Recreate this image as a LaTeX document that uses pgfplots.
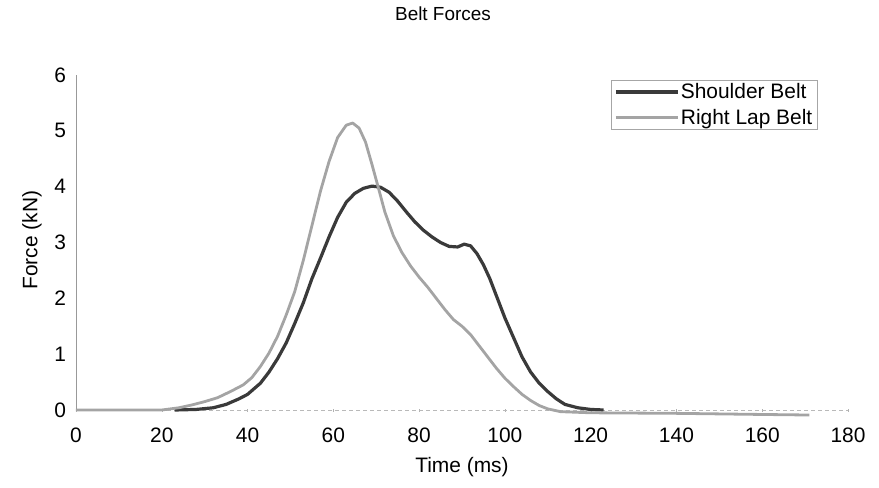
\documentclass[border=0pt]{standalone}
\usepackage{pgfplots}
\pgfplotsset{compat=1.18}
\usepackage{fontspec}
\setmainfont{Liberation Sans}
\definecolor{darkline}{HTML}{3A3A3A}
\definecolor{lightline}{HTML}{A4A4A4}
\begin{document}
\begin{tikzpicture}
\useasboundingbox (-76bp,-78bp) rectangle (803bp,410bp);
\begin{axis}[
  at={(0,0)}, anchor=south west,
  scale only axis, width=772bp, height=335bp,
  xmin=0, xmax=180, ymin=0, ymax=6,
  xtick={0,20,...,180}, ytick={0,1,...,6},
  axis lines=left,
  axis line style={-},
  x axis line style={gray!55, dash pattern=on 4bp off 3bp},
  y axis line style={gray!80, line width=0.5bp},
  major tick length=3bp,
  xtick style={gray!60},
  ytick style={draw=none},
  clip=false,
  /pgf/number format/assume math mode=true,
  tick label style={font=\fontsize{21}{23}\selectfont},
  xticklabel style={yshift=-13bp},
  yticklabel style={xshift=-5bp},
  xlabel={Time (ms)},
  ylabel={Force (kN)},
  label style={font=\fontsize{21}{23}\selectfont},
  xlabel style={at={(axis description cs:0.5,-0.170)}, anchor=center},
  ylabel style={at={(axis description cs:-0.057,0.507)}, anchor=center, rotate=0},
  legend style={at={(axis description cs:0.693,0.985)}, anchor=north west,
    draw=gray!70, line width=0.4bp, font=\fontsize{21}{23}\selectfont,
    inner xsep=3bp, inner ysep=2bp, row sep=6bp,
    nodes={inner sep=1.5bp}},
  legend cell align=left,
  legend image code/.code={\draw[#1] (0bp,0bp) -- (62bp,0bp);},
]
\addplot[darkline, line width=3.2bp, line join=round] coordinates {
(23,0) (28,0.01) (32,0.04) (35,0.1) (38,0.2) (40,0.28) (43,0.48) (45,0.68)
(47,0.92) (49,1.2) (51,1.55) (53,1.92) (55,2.35) (57,2.72) (59,3.1) (61,3.45)
(63,3.72) (65,3.88) (67,3.97) (69,4.01) (71,3.99) (73,3.9) (75,3.74) (77,3.55)
(79,3.37) (81,3.22) (83,3.1) (85,3.0) (87,2.93) (89,2.92) (90.5,2.97) (92,2.94)
(93.5,2.8) (95,2.6) (96.5,2.35) (98,2.05) (100,1.65) (102,1.3) (104,0.95)
(106,0.68) (108,0.48) (110,0.33) (112,0.2) (114,0.1) (117,0.04) (120,0.01) (123,0)
};
\addlegendentry{Shoulder Belt}
\addplot[lightline, line width=2.8bp, line join=round] coordinates {
(0,0) (20,0) (24,0.04) (27,0.09) (30,0.15) (33,0.22) (36,0.33) (39,0.45)
(41,0.58) (43,0.78) (45,1.02) (47,1.32) (49,1.7) (51,2.12) (53,2.68) (55,3.3)
(57,3.92) (59,4.45) (61,4.88) (63,5.1) (64.5,5.14) (66,5.05) (67.5,4.8) (69,4.4)
(70.5,3.98) (72,3.55) (74,3.12) (76,2.82) (78,2.58) (80,2.38) (82,2.2) (84,2.0)
(86,1.8) (88,1.62) (90,1.5) (92,1.35) (94,1.15) (96,0.95) (98,0.75) (100,0.57)
(102,0.42) (104,0.28) (106,0.17) (108,0.08) (110,0.02) (113,-0.03) (120,-0.05)
(140,-0.06) (160,-0.08) (171,-0.09)
};
\addlegendentry{Right Lap Belt}
\end{axis}
\node[font=\fontsize{19}{21}\selectfont] at (367bp,396bp) {Belt Forces};
\end{tikzpicture}
\end{document}
